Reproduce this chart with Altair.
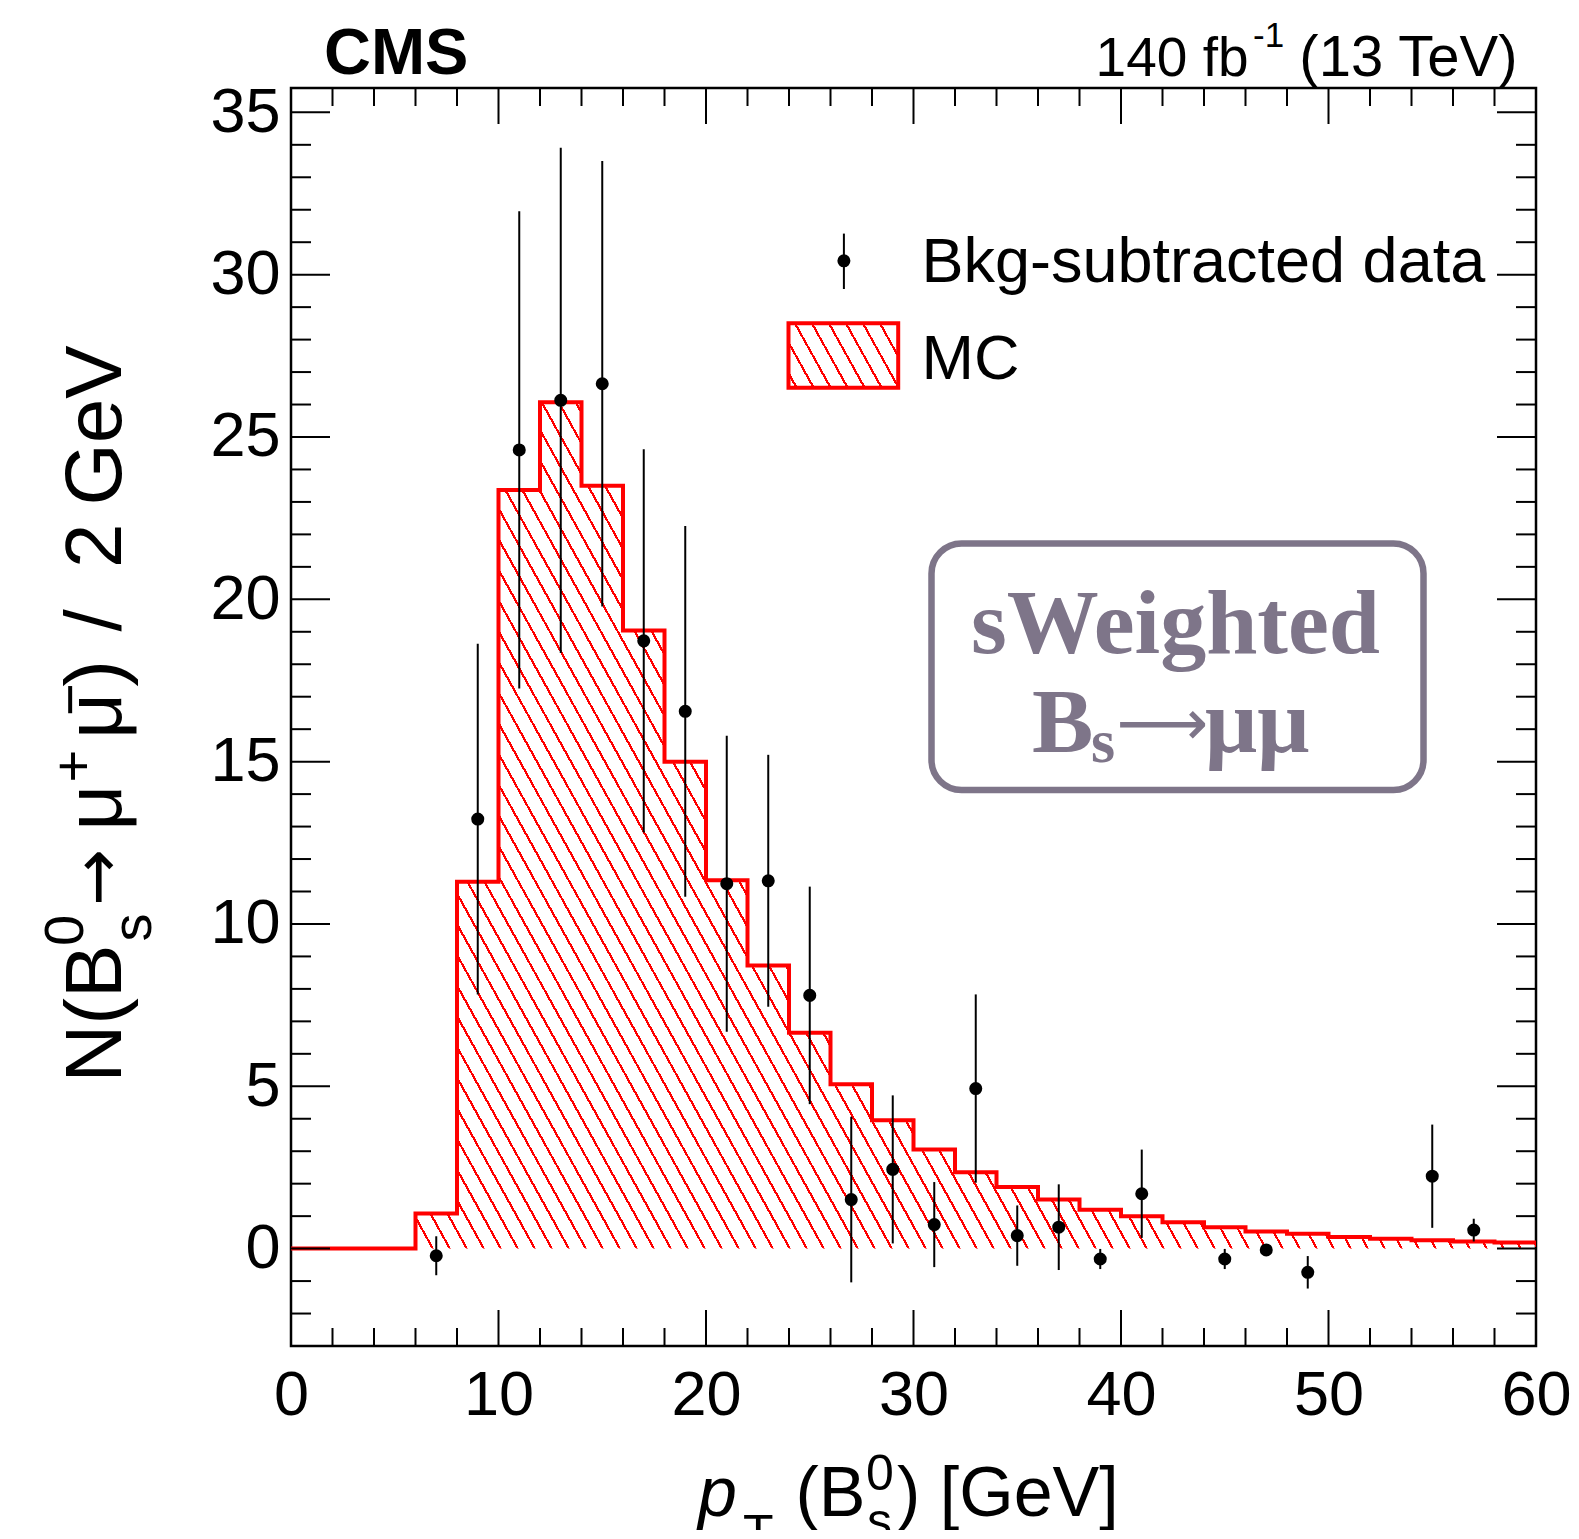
import math
import altair as alt
import pandas as pd

# ---------------- data ----------------
mc_edges = list(range(0, 62, 2))
mc_values = [0.0, 0.0, 0.0, 1.08, 11.3, 23.37, 26.07, 23.5, 19.04, 15.0,
             11.35, 8.72, 6.65, 5.06, 3.95, 3.05, 2.35, 1.9, 1.51, 1.2,
             1.0, 0.81, 0.66, 0.53, 0.46, 0.36, 0.30, 0.26, 0.22, 0.19]

data_x = [7, 9, 11, 13, 15, 17, 19, 21, 23, 25, 27, 29, 31, 33, 35, 37, 39, 41,
          45, 47, 49, 55, 57]
data_y = [-0.22, 13.23, 24.6, 26.13, 26.64, 18.72, 16.55, 11.24, 11.33, 7.8,
          1.51, 2.44, 0.74, 4.93, 0.40, 0.66, -0.32, 1.69, -0.32, -0.04, -0.73,
          2.23, 0.57]
data_err = [0.6, 5.4, 7.35, 7.78, 6.86, 5.9, 5.71, 4.56, 3.88, 3.35, 2.55, 2.28,
            1.31, 2.9, 0.93, 1.32, 0.31, 1.36, 0.31, 0.1, 0.5, 1.59, 0.35]

x_labels = [0, 10, 20, 30, 40, 50, 60]
y_labels = [0, 5, 10, 15, 20, 25, 30, 35]
x_major = [10, 20, 30, 40, 50]
x_minor = [v for v in range(2, 60, 2) if v % 10 != 0]
y_major = [0, 5, 10, 15, 20, 25, 30, 35]
y_minor = [v for v in range(-2, 36) if v % 5 != 0]

# ---------------- geometry / style ----------------
W, H = 1245, 1258
YMIN, YMAX = -3, 35.75
RED = "#ff0000"
BOXC = "#7e7589"
FONT = "Liberation Sans"
DOT = 170

mc_df = pd.DataFrame({"x": mc_edges[:-1] + [mc_edges[-1]],
                      "y": mc_values + [mc_values[-1]]})
pts_df = pd.DataFrame({"c": data_x, "v": data_y, "e": data_err})
pts_df["lo"] = pts_df["v"] - pts_df["e"]
pts_df["hi"] = pts_df["v"] + pts_df["e"]


def hatch(bw, bh, theta_deg=61.0, spacing_h=17.0, lw=2.2, phase=4.0):
    th = math.radians(theta_deg)
    a = bw * math.sin(th)
    b = -bh * math.cos(th)
    L = a - b
    g2 = a * a + b * b
    s = spacing_h * math.sin(th)
    clear = "rgba(255,0,0,0)"
    stops = [{"offset": 0, "color": clear}]
    i = 0
    while True:
        o0 = (phase + i * s) / L
        o1 = (phase + i * s + lw) / L
        if o1 >= 1:
            break
        stops += [{"offset": o0, "color": clear}, {"offset": o0, "color": RED},
                  {"offset": o1, "color": RED}, {"offset": o1, "color": clear}]
        i += 1
    stops.append({"offset": 1, "color": clear})
    return {"gradient": "linear", "x1": b * a / g2, "y1": b * b / g2,
            "x2": a * a / g2, "y2": a * b / g2, "stops": stops}


xscale = alt.Scale(domain=[0, 60], nice=False, zero=False)
yscale = alt.Scale(domain=[YMIN, YMAX], nice=False, zero=False)
ypx = H / (YMAX - YMIN)

x_axis = alt.Axis(values=x_labels, title=None, labelFontSize=63, labelFont=FONT,
                  labelColor="black", ticks=False, tickSize=0, domain=False,
                  grid=False, labelPadding=18, labelFlush=False,
                  labelOverlap=False, format="d")
y_axis = alt.Axis(values=y_labels, title=None, labelFontSize=63, labelFont=FONT,
                  labelColor="black", ticks=False, tickSize=0, domain=False,
                  grid=False, labelPadding=11, labelFlush=False,
                  labelOverlap=False, format="d")


def X(f):
    return alt.X(f, scale=xscale, axis=x_axis)


def Y(f):
    return alt.Y(f, scale=yscale, axis=y_axis)


area_h = max(mc_values) * ypx
area = alt.Chart(mc_df).mark_area(
    interpolate="step-after", fill=hatch(W, area_h), opacity=1
).encode(x=X("x:Q"), y=Y("y:Q"), y2=alt.datum(0))

line = alt.Chart(mc_df).mark_line(
    interpolate="step-after", color=RED, strokeWidth=4, strokeJoin="miter"
).encode(x=X("x:Q"), y=Y("y:Q"))

errs = alt.Chart(pts_df).mark_rule(color="black", strokeWidth=2).encode(
    x=X("c:Q"), y=Y("lo:Q"), y2="hi:Q")

dots = alt.Chart(pts_df).mark_circle(color="black", size=DOT, opacity=1).encode(
    x=X("c:Q"), y=Y("v:Q"))


def yticks(vals, length):
    df = pd.DataFrame({"t": vals})
    left = alt.Chart(df).mark_rule(color="black", strokeWidth=2).encode(
        y=Y("t:Q"), x=alt.value(0), x2=alt.value(length))
    right = alt.Chart(df).mark_rule(color="black", strokeWidth=2).encode(
        y=Y("t:Q"), x=alt.value(W - length), x2=alt.value(W))
    return [left, right]


def xticks(vals, length):
    df = pd.DataFrame({"t": vals})
    bot = alt.Chart(df).mark_rule(color="black", strokeWidth=2).encode(
        x=X("t:Q"), y=alt.value(H - length), y2=alt.value(H))
    top = alt.Chart(df).mark_rule(color="black", strokeWidth=2).encode(
        x=X("t:Q"), y=alt.value(0), y2=alt.value(length))
    return [bot, top]


one = alt.Data(values=[{"k": 1}])


def txt(text, x, y, size, font=FONT, weight="normal", style="normal",
        align="left", baseline="alphabetic", angle=0, color="black"):
    return alt.Chart(one).mark_text(
        text=text, font=font, fontSize=size, fontWeight=weight, fontStyle=style,
        align=align, baseline=baseline, angle=angle, color=color
    ).encode(x=alt.value(x), y=alt.value(y))


SERIF = "Liberation Serif"
texts = [
    txt("CMS", 33, -14.5, 65, weight="bold"),
    txt("140 fb", 804.6, -12.5, 55),
    txt("-1", 962, -40.7, 35),
    txt("(13 TeV)", 1226.5, -12.5, 58, align="right"),
    # x title
    txt("p", 407, 1427.5, 70, style="italic"),
    txt("T", 452, 1462, 50),
    txt("(B", 504.5, 1427.5, 70),
    txt("0", 575, 1402, 50),
    txt("s", 576, 1450, 50),
    txt(") [GeV]", 606, 1427.5, 70),
    # y title (rotated)
    txt("N(B", -170, 994.5, 80, angle=270),
    txt("0", -208.4, 858, 56, angle=270),
    txt("s", -140, 853.5, 56, angle=270),
    txt("\u2192", -171, 818, 68, font="DejaVu Sans", angle=270),
    txt("\u03bc", -170, 742.8, 80, angle=270),
    txt("+", -199, 694.4, 56, angle=270),
    txt("\u03bc", -170, 651, 80, angle=270),
    txt("\u2212", -202.5, 628, 56, angle=270),
    txt(")", -170, 598.8, 80, angle=270),
    txt("/", -170, 543.4, 80, angle=270),
    txt("2", -170, 480, 80, angle=270),
    txt("GeV", -170, 417.5, 80, angle=270),
    # legend texts
    txt("Bkg-subtracted data", 630.4, 194, 63),
    txt("MC", 630.4, 290.6, 63),
    # sWeighted box texts
    txt("sWeighted", 884.5, 565.3, 92, font=SERIF, weight="bold",
        align="center", color=BOXC),
    txt("B", 741, 663.7, 92, font=SERIF, weight="bold", color=BOXC),
    txt("s", 800, 674, 62, font=SERIF, weight="bold", color=BOXC),
    txt("\u27f6", 871, 638, 64, font="DejaVu Sans", align="center",
        baseline="middle", color=BOXC),
    txt("\u03bc\u03bc", 914, 663.7, 92, font=SERIF, weight="bold",
        color=BOXC),
]

# legend symbols
leg_err = alt.Chart(one).mark_rule(color="black", strokeWidth=2).encode(
    x=alt.value(552.9), y=alt.value(145.6), y2=alt.value(201))
leg_dot = alt.Chart(one).mark_circle(color="black", size=DOT, opacity=1).encode(
    x=alt.value(552.9), y=alt.value(172.8))
leg_box = alt.Chart(one).mark_rect(
    fill=hatch(109.7, 64.5, phase=6), stroke=RED, strokeWidth=4, opacity=1
).encode(x=alt.value(497.5), x2=alt.value(607.2), y=alt.value(235.2),
         y2=alt.value(299.7))

sw_box = alt.Chart(one).mark_rect(
    fill="white", fillOpacity=0, stroke=BOXC, strokeWidth=6.5, cornerRadius=30
).encode(x=alt.value(640.5), x2=alt.value(1132.5), y=alt.value(455.5),
         y2=alt.value(702))

layers = [area, line, errs, dots]
layers += yticks(y_major, 39) + yticks(y_minor, 20)
layers += xticks(x_major, 36) + xticks(x_minor, 18)
layers += [leg_box, leg_err, leg_dot, sw_box] + texts

chart = alt.layer(*layers).properties(
    width=W, height=H,
    autosize=alt.AutoSizeParams(type="none"),
    padding={"left": 283, "top": 80, "right": 35, "bottom": 184},
    background="white",
).configure_view(stroke="black", strokeWidth=2.5)

chart.save("out.html", embed_options={"renderer": "svg", "actions": False})
